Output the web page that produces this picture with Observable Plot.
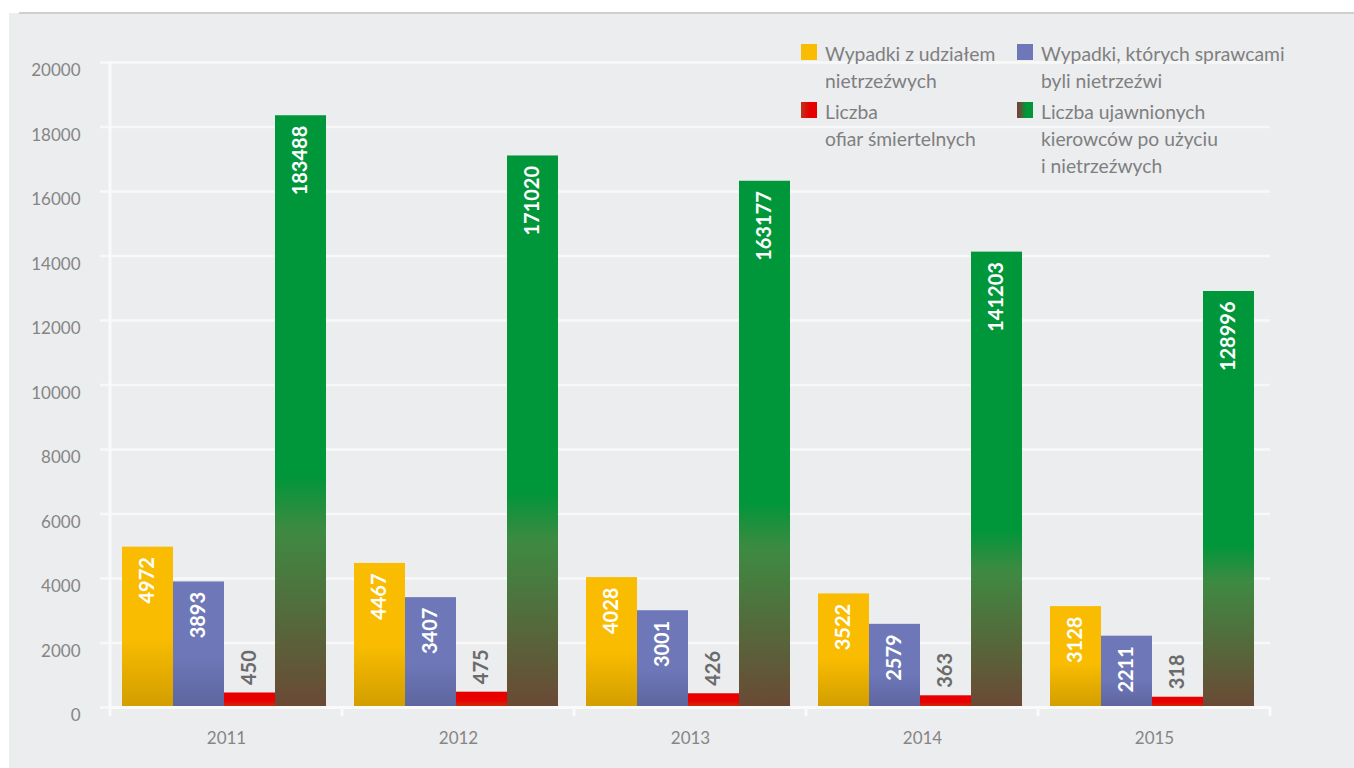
<!DOCTYPE html>
<html><head><meta charset="utf-8">
<script src="https://cdn.jsdelivr.net/npm/d3@7"></script>
<script src="https://cdn.jsdelivr.net/npm/@observablehq/plot@0.6"></script>
<style>
html,body{margin:0;padding:0;background:#fff;width:1354px;height:768px;overflow:hidden;font-family:Lato,sans-serif;}
#panel{position:absolute;left:9px;top:13px;width:1345px;height:755px;background:#ecedef;}
#topline{position:absolute;left:19px;top:12px;width:1335px;height:2px;background:#cfcfcf;}
.leg{position:absolute;display:flex;align-items:flex-start;color:#7f7f7f;font-size:19.3px;line-height:27px;white-space:nowrap;}
.sw{width:16px;height:16px;margin-top:4px;margin-right:8px;flex:none;}
svg [aria-label="y-axis tick"], svg [aria-label="y-axis tick"] path{stroke:#f8f8f9 !important;stroke-width:2.5px;}
</style></head><body>
<div id="panel"><div id="chart"></div></div>
<div id="topline"></div>
<div class="leg" style="left:801px;top:40px"><div class="sw" style="background:#f9bc00"></div><div>Wypadki z udziałem<br>nietrzeźwych</div></div>
<div class="leg" style="left:1017px;top:40px"><div class="sw" style="background:#6e78b9"></div><div>Wypadki, których sprawcami<br>byli nietrzeźwi</div></div>
<div class="leg" style="left:801px;top:98px"><div class="sw" style="background:linear-gradient(to right,#c0341a 0%,#e60000 55%,#e60000 100%)"></div><div>Liczba<br>ofiar śmiertelnych</div></div>
<div class="leg" style="left:1017px;top:98px"><div class="sw" style="background:linear-gradient(to right,#6b4935 0%,#6b4935 15%,#00963a 55%,#00963a 100%)"></div><div>Liczba ujawnionych<br>kierowców po użyciu<br>i nietrzeźwych</div></div>
<script>
const years = ["2011", "2012", "2013", "2014", "2015"];
const seriesKeys = ["wypadki", "sprawcy", "ofiary", "kierowcy"];
const wypadki = [4972, 4467, 4028, 3522, 3128];
const sprawcy = [3893, 3407, 3001, 2579, 2211];
const ofiary = [450, 475, 426, 363, 318];
const kierowcy = [183488, 171020, 163177, 141203, 128996];
const kierowcyDivisor = 10; // drawn at one tenth on the shared axis
const yTicks = [0, 2000, 4000, 6000, 8000, 10000, 12000, 14000, 16000, 18000, 20000];

const rows = years.flatMap((year, i) => [
  {year, series: "wypadki", value: wypadki[i], plotted: wypadki[i]},
  {year, series: "sprawcy", value: sprawcy[i], plotted: sprawcy[i]},
  {year, series: "ofiary", value: ofiary[i], plotted: ofiary[i]},
  {year, series: "kierowcy", value: kierowcy[i], plotted: kierowcy[i] / kierowcyDivisor}
]);

const fills = {wypadki: "url(#gYellow)", sprawcy: "url(#gBlue)", ofiary: "url(#gRed)", kierowcy: "url(#gGreen)"};

const plot = Plot.plot({
  width: 1345, height: 755,
  marginLeft: 101, marginRight: 84, marginTop: 49, marginBottom: 61,
  style: {background: "transparent", fontFamily: "Lato, sans-serif", fontSize: "17px", color: "#858585", overflow: "visible"},
  facet: {data: rows, x: "year"},
  fx: {domain: years, padding: 0, axis: "bottom", label: null, tickSize: 0, tickPadding: 24},
  x: {domain: seriesKeys, paddingInner: 0, paddingOuter: 0.27, align: 0.43, axis: null},
  y: {domain: [0, 20000], ticks: yTicks, tickSize: 10, tickPadding: 20, tickFormat: d3.format("d"), label: null},
  marks: [
    Plot.ruleY(yTicks, {stroke: "#f8f8f9", strokeWidth: 2.5}),
    ...seriesKeys.map(s => Plot.barY(rows, {filter: d => d.series === s, x: "series", y: "plotted", fill: fills[s]})),
    Plot.ruleY([0], {stroke: "#fafafa", strokeWidth: 3}),
    Plot.text(rows, {filter: d => d.series !== "ofiary", x: "series", y: "plotted", text: d => String(d.value),
      rotate: -90, textAnchor: "end", dy: 10, fill: "white", fontWeight: "bold", fontSize: 20}),
    Plot.text(rows, {filter: d => d.series === "ofiary", x: "series", y: "plotted", text: d => String(d.value),
      rotate: -90, textAnchor: "start", dy: -8, fill: "#6b6b6b", fontWeight: "bold", fontSize: 20})
  ]
});

document.getElementById("chart").appendChild(plot);
const svgNode = plot.tagName.toLowerCase() === "svg" ? plot : plot.querySelector("svg");
const svg = d3.select(svgNode);

const defs = svg.insert("defs", ":first-child");
function grad(id, stops) {
  const g = defs.append("linearGradient").attr("id", id)
    .attr("x1", 0).attr("y1", 0).attr("x2", 0).attr("y2", 1);
  stops.forEach(([o, c]) => g.append("stop").attr("offset", o).attr("stop-color", c));
}
grad("gYellow", [[0, "#f9bc00"], [0.57, "#f9bc00"], [1, "#d29e00"]]);
grad("gBlue", [[0, "#6e78b9"], [0.6, "#6e78b9"], [1, "#5e659e"]]);
grad("gRed", [[0, "#e80000"], [0.55, "#e80000"], [1, "#c8340e"]]);
grad("gGreen", [[0, "#00963a"], [0.61, "#00963a"], [0.7, "#3e8a42"], [1, "#6b4935"]]);

// axis styling
svg.selectAll('[aria-label="y-axis tick"]').attr("stroke", "#f8f8f9").attr("stroke-width", 2.5);
svg.selectAll('[aria-label="y-axis tick"] path').attr("stroke", "#f8f8f9");
svg.selectAll('[aria-label="y-axis tick label"] text').attr("dy", "0.5em");

// axis line and band boundary ticks from scales
const fxS = plot.scale("fx"), yS = plot.scale("y");
const y0 = yS.apply(0), yTop = yS.apply(20000);
const fx0 = Math.min(...fxS.range), fx1 = Math.max(...fxS.range);
const stepPx = (fx1 - fx0) / years.length;
const deco = svg.append("g").attr("stroke", "#fafafa").attr("stroke-width", 3);
deco.append("line").attr("x1", fx0).attr("x2", fx0).attr("y1", yTop).attr("y2", y0 + 9);
for (let i = 1; i <= years.length; i++) {
  const b = fx0 + i * stepPx;
  deco.append("line").attr("x1", b).attr("x2", b).attr("y1", y0).attr("y2", y0 + 9);
}
</script>
</body></html>
